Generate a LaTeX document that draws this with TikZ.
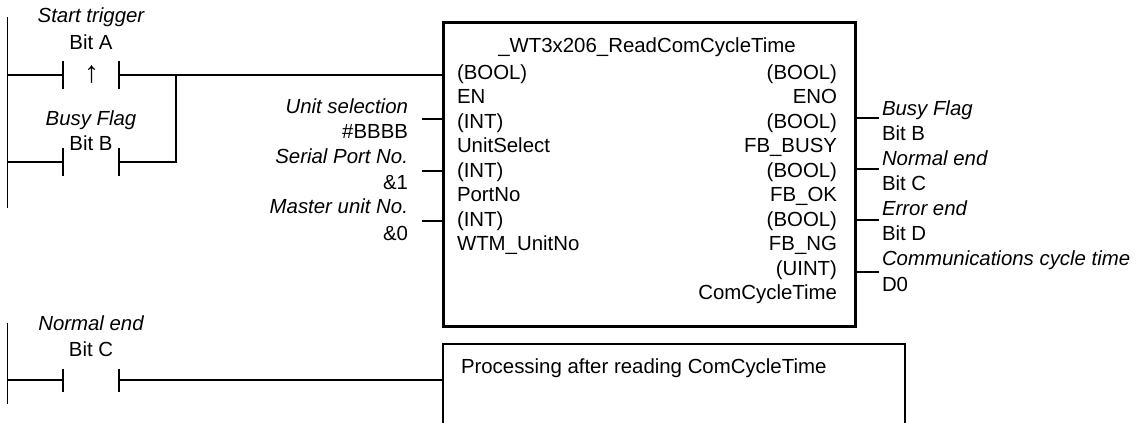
\documentclass[tikz,border=0pt]{standalone}
\usepackage{fontspec}
\setmainfont{Liberation Sans}
\begin{document}
\begin{tikzpicture}[x=1pt,y=-1pt,
  every node/.style={inner sep=0pt, outer sep=0pt, font=\fontsize{20.4}{24}\selectfont},
  wire/.style={line width=1.3pt, line cap=butt},
  contact/.style={minimum width=56pt, minimum height=28pt},
  lbl/.style={anchor=base},
  lblr/.style={anchor=base east},
  lbll/.style={anchor=base west},
  it/.style={font=\fontsize{20.4}{24}\selectfont\itshape},
  fbbox/.style={draw, line width=3pt, minimum width=412pt, minimum height=304pt},
  pbox/.style={draw, line width=1.3pt, minimum width=462pt, minimum height=110pt, anchor=north west}
]
\useasboundingbox (0,0) rectangle (1141,423);

% rails
\coordinate (r1t) at (7.5,17);
\coordinate (r1b) at (7.5,208);
\coordinate (r2t) at (7.5,323);
\coordinate (r2b) at (7.5,404);
\draw[wire] (r1t) -- (r1b);
\draw[wire] (r2t) -- (r2b);

% function block
\node[fbbox] (fb) at (649,174) {};

% contacts
\node[contact] (cA) at (91,75) {};
\node[contact] (cB) at (91,162) {};
\node[contact, minimum height=23pt] (cC) at (91,380) {};
\foreach \c in {cA,cB,cC}{
  \draw[wire] (\c.north west) -- (\c.south west) (\c.north east) -- (\c.south east);
}
\node[anchor=base] (arr) at (91.5,82) {\fontsize{30}{32}\selectfont ↑};

% rung 1
\coordinate (rA) at (7.5,75);
\coordinate (rB) at (7.5,162);
\coordinate (jA) at (176,75);
\coordinate (jB) at (176,162);
\draw[wire] (rA) -- (cA.west);
\draw[wire] (cA.east) -- (cA.east -| fb.west);
\draw[wire] (rB) -- (cB.west);
\draw[wire] (cB.east) -- (jB) -- (jA);

% contact labels
\node[lbl, it] (tA1) at (91,23) {Start trigger};
\node[lbl] (tA2) at (91,49) {Bit A};
\node[lbl, it] (tB1) at (91,125) {Busy Flag};
\node[lbl] (tB2) at (91,150) {Bit B};
\node[lbl, it] (tC1) at (91,330) {Normal end};
\node[lbl] (tC2) at (91,356) {Bit C};

% input stubs and labels
\coordinate (i1) at (422,119);
\coordinate (i2) at (422,171);
\coordinate (i3) at (422,221);
\foreach \s in {i1,i2,i3}{ \draw[wire] (\s) -- (\s -| fb.west); }
\node[lblr, it] at (408,113) {Unit selection};
\node[lblr] at (408,138) {\#BBBB};
\node[lblr, it] at (408,163) {Serial Port No.};
\node[lblr] at (408,189) {\&1};
\node[lblr, it] at (408,213) {Master unit No.};
\node[lblr] at (408,240) {\&0};

% block texts
\node[lbl] (title) at (647,52) {\_WT3x206\_ReadComCycleTime};
\node[lbll] at (457,79) {(BOOL)};
\node[lbll] at (457,103.5) {EN};
\node[lbll] at (457,128) {(INT)};
\node[lbll] at (457,152.5) {UnitSelect};
\node[lbll] at (457,177) {(INT)};
\node[lbll] at (457,201.5) {PortNo};
\node[lbll] at (457,226) {(INT)};
\node[lbll] at (457,250.5) {WTM\_UnitNo};

\node[lblr] at (837,79) {(BOOL)};
\node[lblr] at (837,103.5) {ENO};
\node[lblr] at (837,128) {(BOOL)};
\node[lblr] at (837,152.5) {FB\_BUSY};
\node[lblr] at (837,177) {(BOOL)};
\node[lblr] at (837,201.5) {FB\_OK};
\node[lblr] at (837,226) {(BOOL)};
\node[lblr] at (837,250.5) {FB\_NG};
\node[lblr] at (837,275) {(UINT)};
\node[lblr] at (837,299) {ComCycleTime};

% output stubs and labels
\coordinate (o1) at (879,118);
\coordinate (o2) at (879,169);
\coordinate (o3) at (879,220);
\coordinate (o4) at (879,272);
\foreach \s in {o1,o2,o3,o4}{ \draw[wire] (\s -| fb.east) -- (\s); }
\node[lbll, it] at (882,115) {Busy Flag};
\node[lbll] at (882,140) {Bit B};
\node[lbll, it] at (882,165) {Normal end};
\node[lbll] at (882,190) {Bit C};
\node[lbll, it] at (882,215) {Error end};
\node[lbll] at (882,240) {Bit D};
\node[lbll, it] at (882,265) {Communications cycle time};
\node[lbll] at (882,291) {D0};

% rung 2 and processing box
\coordinate (rC) at (7.5,380);
\node[pbox] (pb) at (443,344) {};
\draw[wire] (rC) -- (cC.west);
\draw[wire] (cC.east) -- (cC.east -| pb.west);
\node[lbll] at (461,373) {Processing after reading ComCycleTime};
\end{tikzpicture}
\end{document}
